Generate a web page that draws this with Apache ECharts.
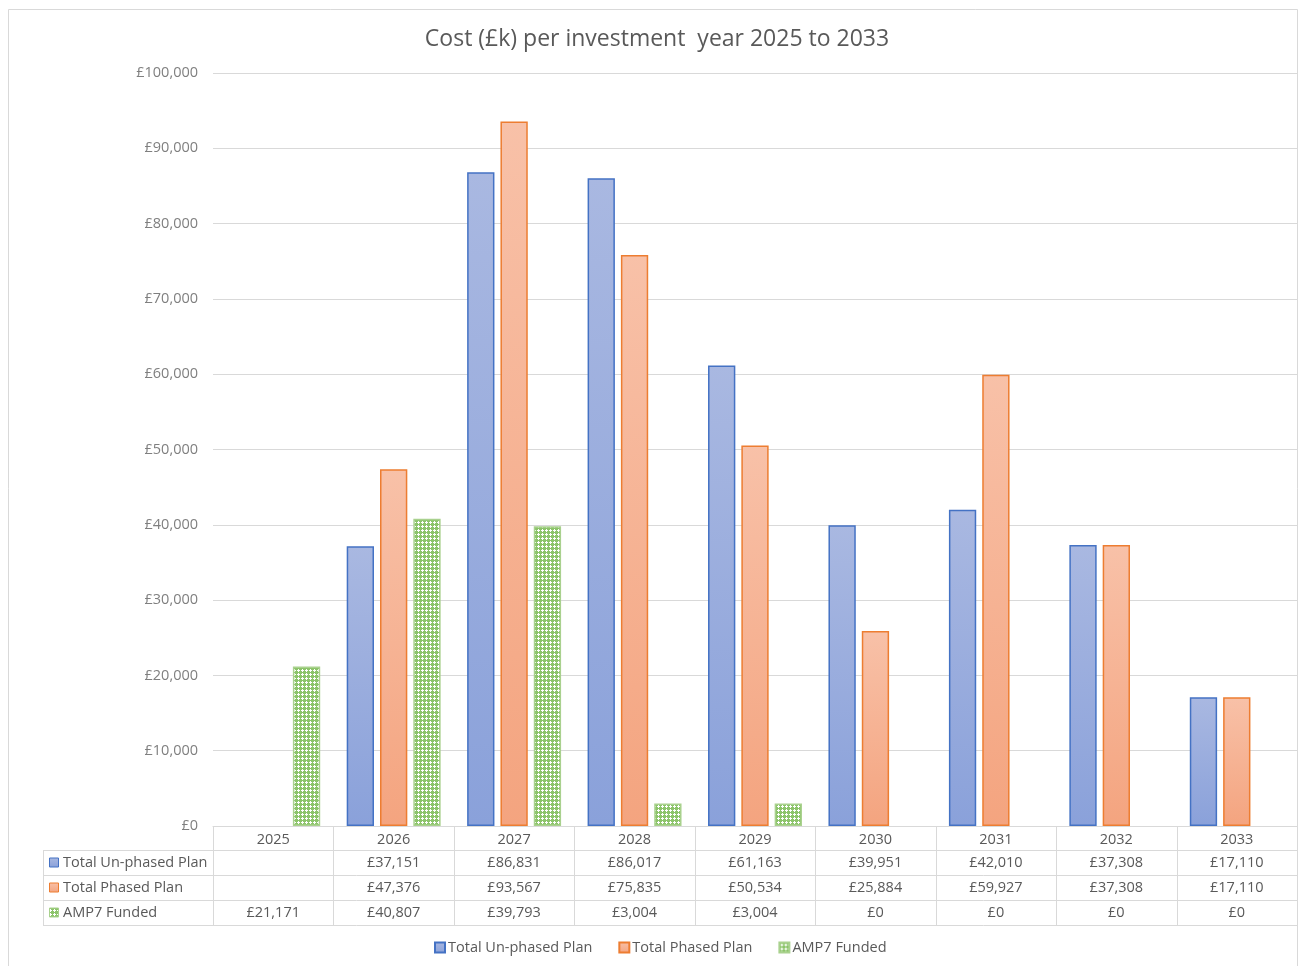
<!DOCTYPE html>
<html>
<head>
<meta charset="utf-8">
<script src="https://cdn.jsdelivr.net/npm/echarts@6/dist/echarts.min.js"></script>
<style>
  html, body { margin: 0; padding: 0; background: #fff; }
  #main { width: 1298px; height: 966px; }
</style>
</head>
<body>
<div id="main"></div>
<script>
// chart data
var years = ["2025", "2026", "2027", "2028", "2029", "2030", "2031", "2032", "2033"];
var seriesNames = ["Total Un-phased Plan", "Total Phased Plan", "AMP7 Funded"];
var unphased = [null, 37151, 86831, 86017, 61163, 39951, 42010, 37308, 17110];
var phased = [null, 47376, 93567, 75835, 50534, 25884, 59927, 37308, 17110];
var amp7 = [21171, 40807, 39793, 3004, 3004, 0, 0, 0, 0];

var chart = echarts.init(document.getElementById("main"));

// layout of plot / data table
var GL = 213, GR = 1297, GT = 73, GB = 826;
var cw = (GR - GL) / years.length;
var rowH = 25;
var txtColor = "#595959";
var lineColor = "#d9d9d9";
var font = "Open Sans";
var fs = 14.5;

function money(v) {
  if (v === null || v === undefined) return "";
  return "£" + v.toLocaleString("en-GB");
}

// hatched fill for AMP7
function makePattern() {
  var c = document.createElement("canvas");
  c.width = 8; c.height = 8;
  var ctx = c.getContext("2d");
  ctx.fillStyle = "#ffffff";
  ctx.fillRect(0, 0, 8, 8);
  ctx.fillStyle = "#8cc46a";
  for (var i = 0; i < 8; i++) {
    for (var j = 0; j < 8; j++) {
      if (i % 4 === 0 || j % 4 === 0) ctx.fillRect(i, j, 1, 1);
      else if ((i + j) % 2 === 0 && !(i % 4 === 2 && j % 4 === 2)) ctx.fillRect(i, j, 1, 1);
    }
  }
  return c;
}
var pattern = makePattern();

var blueFill = new echarts.graphic.LinearGradient(0, 0, 0, 1, [
  { offset: 0, color: "#a9b8e1" },
  { offset: 1, color: "#8aa1da" }
]);
var orangeFill = new echarts.graphic.LinearGradient(0, 0, 0, 1, [
  { offset: 0, color: "#f8c1a8" },
  { offset: 1, color: "#f4a47f" }
]);

var rowStyles = [
  { fill: blueFill, stroke: "#4472c4" },
  { fill: orangeFill, stroke: "#ed7d31" },
  { fill: { image: pattern, repeat: "repeat" }, stroke: "#a9d18e" }
];
var rowData = [unphased, phased, amp7];

// data table drawn below the axis
var graphics = [];
graphics.push({
  type: "rect", silent: true,
  shape: { x: 8.5, y: 9.5, width: 1289, height: 980 },
  style: { fill: null, stroke: lineColor, lineWidth: 1 }
});
// horizontal lines
graphics.push({ type: "line", silent: true, shape: { x1: GL, y1: GB + 24.5, x2: GR, y2: GB + 24.5 }, style: { stroke: lineColor, lineWidth: 1 } });
for (var r = 0; r < 3; r++) {
  var yy = GB + 24.5 + (r + 1) * rowH;
  graphics.push({ type: "line", silent: true, shape: { x1: 43, y1: yy, x2: GR, y2: yy }, style: { stroke: lineColor, lineWidth: 1 } });
}
graphics.push({ type: "line", silent: true, shape: { x1: 43, y1: GB + 24.5, x2: GL, y2: GB + 24.5 }, style: { stroke: lineColor, lineWidth: 1 } });
// vertical lines
for (var k = 0; k <= years.length; k++) {
  var xx = Math.round(GL + k * cw) + 0.5;
  graphics.push({ type: "line", silent: true, shape: { x1: xx, y1: GB, x2: xx, y2: GB + 24.5 + 3 * rowH }, style: { stroke: lineColor, lineWidth: 1 } });
}
graphics.push({ type: "line", silent: true, shape: { x1: 43.5, y1: GB + 24.5, x2: 43.5, y2: GB + 24.5 + 3 * rowH }, style: { stroke: lineColor, lineWidth: 1 } });

for (var r2 = 0; r2 < 3; r2++) {
  var cy = GB + 24.5 + r2 * rowH + rowH / 2;
  graphics.push({
    type: "rect", silent: true,
    shape: { x: 49.5, y: cy - 5, width: 9, height: 9 },
    style: { fill: rowStyles[r2].fill, stroke: rowStyles[r2].stroke, lineWidth: 1 }
  });
  graphics.push({
    type: "text", silent: true, x: 63, y: cy,
    style: { text: seriesNames[r2], fill: txtColor, font: fs + "px '" + font + "'", textAlign: "left", textVerticalAlign: "middle" }
  });
  for (var c = 0; c < years.length; c++) {
    graphics.push({
      type: "text", silent: true, x: GL + (c + 0.5) * cw, y: cy,
      style: { text: money(rowData[r2][c]), fill: txtColor, font: fs + "px '" + font + "'", textAlign: "center", textVerticalAlign: "middle" }
    });
  }
}

function barData(arr) {
  return arr.map(function(v) { return v === 0 ? null : v; });
}

chart.setOption({
  animation: false,
  backgroundColor: "#ffffff",
  title: {
    text: "Cost (£k) per investment  year 2025 to 2033",
    left: 652, top: 23, textAlign: "center",
    textStyle: { color: txtColor, fontSize: 23, fontWeight: "normal", fontFamily: font }
  },
  legend: {
    bottom: 6, left: 429,
    itemWidth: 10, itemHeight: 10, itemGap: 26,
    icon: "rect",
    textStyle: { color: txtColor, fontSize: fs, fontFamily: font, padding: [0, 0, 0, -2] },
    data: seriesNames
  },
  grid: { left: GL, right: 1298 - GR, top: GT, bottom: 966 - GB },
  xAxis: {
    type: "category",
    data: years,
    axisLine: { lineStyle: { color: lineColor } },
    axisTick: { show: false },
    axisLabel: { color: txtColor, fontSize: fs, fontFamily: font, margin: 6 }
  },
  yAxis: {
    type: "value",
    min: 0, max: 100000, interval: 10000,
    axisLine: { show: false },
    axisTick: { show: false },
    splitLine: { lineStyle: { color: lineColor, width: 1 } },
    axisLabel: {
      color: "#7f7f7f", fontSize: fs, fontFamily: font, margin: 15,
      formatter: function(v) { return money(v); }
    }
  },
  series: [
    {
      name: seriesNames[0], type: "bar", data: barData(unphased),
      barGap: "22%", barCategoryGap: "22%",
      itemStyle: { color: blueFill, borderColor: "#4472c4", borderWidth: 1.5 }
    },
    {
      name: seriesNames[1], type: "bar", data: barData(phased),
      barGap: "22%", barCategoryGap: "22%",
      itemStyle: { color: orangeFill, borderColor: "#ed7d31", borderWidth: 1.5 }
    },
    {
      name: seriesNames[2], type: "bar", data: barData(amp7),
      barGap: "22%", barCategoryGap: "22%",
      itemStyle: { color: { image: pattern, repeat: "repeat" }, borderColor: "#a9d18e", borderWidth: 1.5 }
    }
  ],
  graphic: graphics
});
</script>
</body>
</html>
